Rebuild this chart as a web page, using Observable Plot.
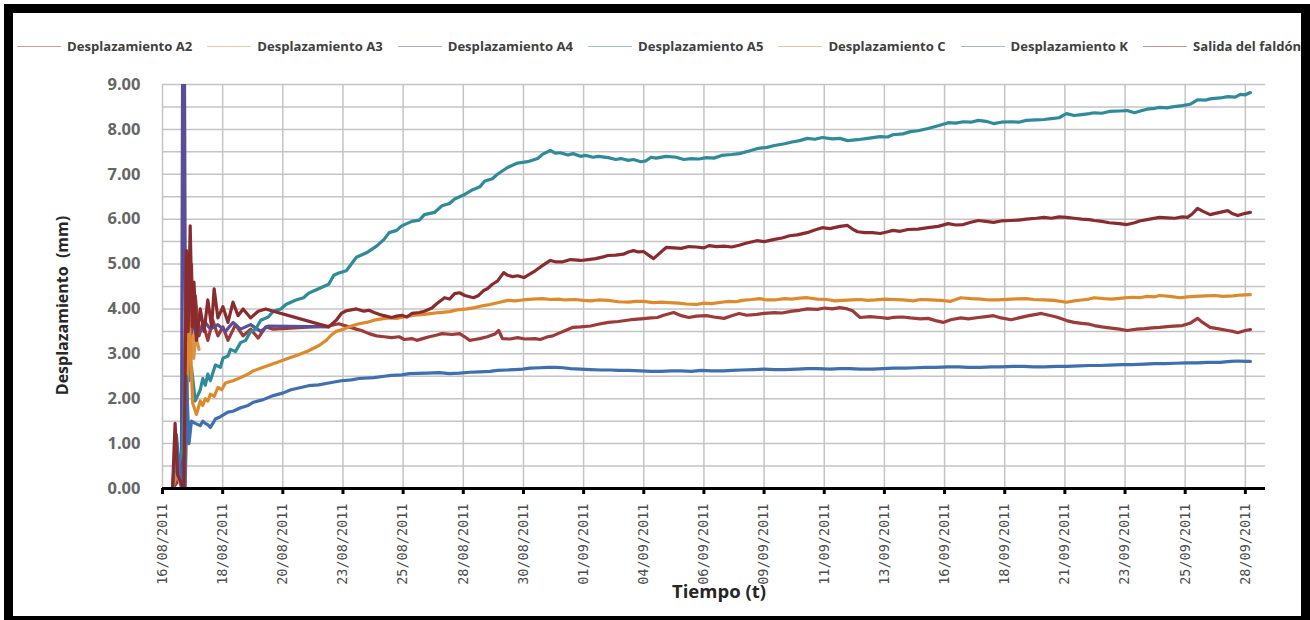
<!DOCTYPE html>
<html><head><meta charset="utf-8">
<script src="https://cdn.jsdelivr.net/npm/d3@7"></script>
<script src="https://cdn.jsdelivr.net/npm/@observablehq/plot@0.6"></script>
<style>
body{margin:0;background:#fff;}
#wrap{position:relative;width:1310px;height:620px;overflow:hidden;font-family:"Open Sans",sans-serif;background:#fff;}
#frame{position:absolute;left:4px;top:4px;width:1306px;height:616px;box-sizing:border-box;border-style:solid;border-color:#000;border-width:9px 9px 4px 9px;pointer-events:none;}
#legend{height:70px;box-sizing:border-box;padding-top:22px;padding-left:17px;display:flex;align-items:center;gap:15px;}
.item{display:flex;align-items:center;font-weight:700;font-size:13.1px;color:#404040;white-space:nowrap;}
.sw{display:inline-block;width:44px;height:0;border-top:1.6px solid;margin-right:6px;opacity:.5;}
#chart svg{display:block;}
</style></head>
<body>
<div id="wrap"><div id="legend"></div><div id="chart"></div><div id="frame"></div></div>
<script>
const seriesNames = ["Desplazamiento A2","Desplazamiento A3","Desplazamiento A4","Desplazamiento A5","Desplazamiento C","Desplazamiento K","Salida del faldón"];
const seriesColors = ["#9c3b39","#d9944a","#5a4e96","#2f8a9b","#de8a2c","#3f6fae","#8a2c2f"];

const tickLabels = ["16/08/2011","18/08/2011","20/08/2011","23/08/2011","25/08/2011","28/08/2011","30/08/2011","01/09/2011","04/09/2011","06/09/2011","09/09/2011","11/09/2011","13/09/2011","16/09/2011","18/09/2011","21/09/2011","23/09/2011","25/09/2011","28/09/2011"];
const yTickValues = [0,1,2,3,4,5,6,7,8,9];
const yGridValues = [0,0.5,1,1.5,2,2.5,3,3.5,4,4.5,5,5.5,6,6.5,7,7.5,8,8.5,9];

// [days since 16/08/2011, displacement mm]
const a2 = [[0.4,0],[0.8,0.3],[0.95,4.9],[1.05,3.2],[1.15,5.0],[1.22,3.3],[1.3,4.3],[1.45,3.4],[1.6,3.7],[1.8,3.3],[2.0,3.75],[2.2,3.4],[2.4,3.6],[2.6,3.3],[2.9,3.65],[3.2,3.4],[3.5,3.55],[3.8,3.35],[4.1,3.6],[4.4,3.55],[6.6,3.62],[7.0,3.67],[7.4,3.6],[7.7,3.55],[7.9,3.52],[8.2,3.45],[8.5,3.4],[8.8,3.38],[9.1,3.36],[9.4,3.38],[9.6,3.32],[9.9,3.34],[10.1,3.3],[10.4,3.35],[10.6,3.38],[10.9,3.42],[11.1,3.45],[11.5,3.43],[11.8,3.45],[12.0,3.38],[12.2,3.3],[12.4,3.32],[12.6,3.34],[12.9,3.38],[13.2,3.44],[13.35,3.52],[13.5,3.34],[13.8,3.33],[14.1,3.36],[14.4,3.33],[14.8,3.34],[15.0,3.32],[15.3,3.38],[15.5,3.4],[15.7,3.45],[16.0,3.52],[16.3,3.59],[16.6,3.6],[17.0,3.62],[17.3,3.66],[17.7,3.7],[18.1,3.72],[18.6,3.76],[19.0,3.78],[19.4,3.8],[19.65,3.81],[19.9,3.86],[20.3,3.92],[20.6,3.85],[20.9,3.81],[21.2,3.84],[21.6,3.85],[21.9,3.82],[22.3,3.79],[22.6,3.85],[22.9,3.9],[23.2,3.86],[23.6,3.88],[23.9,3.9],[24.3,3.92],[24.6,3.91],[25.0,3.95],[25.3,3.97],[25.6,4.0],[26.0,3.99],[26.3,4.02],[26.6,4.0],[26.9,4.03],[27.2,4.0],[27.4,3.96],[27.6,3.86],[27.7,3.81],[28.1,3.83],[28.5,3.81],[28.8,3.79],[29.0,3.81],[29.4,3.82],[29.7,3.8],[30.1,3.78],[30.4,3.79],[30.7,3.74],[31.0,3.7],[31.3,3.76],[31.7,3.8],[32.0,3.78],[32.4,3.81],[32.7,3.83],[33.0,3.85],[33.3,3.8],[33.7,3.76],[34.0,3.8],[34.4,3.85],[34.7,3.88],[34.9,3.9],[35.2,3.86],[35.5,3.82],[35.7,3.78],[35.9,3.74],[36.2,3.7],[36.5,3.68],[36.8,3.66],[37.0,3.63],[37.3,3.6],[37.6,3.58],[38.0,3.55],[38.3,3.52],[38.7,3.55],[39.0,3.56],[39.3,3.58],[39.6,3.59],[40.0,3.61],[40.5,3.63],[40.8,3.68],[41.1,3.79],[41.3,3.7],[41.6,3.59],[41.9,3.56],[42.3,3.52],[42.5,3.5],[42.7,3.47],[43.0,3.52],[43.2,3.54]];
const a3 = [[0.4,0],[0.55,0.5],[0.7,0.1],[0.9,0],[1.0,4.2],[1.08,2.6],[1.16,3.9],[1.24,2.9],[1.32,3.4],[1.45,3.1]];
const a4 = [[0.4,0],[0.65,0.5],[0.75,0],[0.8,9.6],[0.87,9.6],[0.92,2.0],[1.0,3.7],[1.1,3.4],[1.3,3.75],[1.5,3.5],[1.7,3.7],[1.9,3.55],[2.2,3.65],[2.5,3.5],[2.8,3.7],[3.1,3.55],[3.5,3.65],[3.9,3.5],[4.2,3.62],[6.6,3.6]];
const a5 = [[0.4,0],[0.8,0.9],[0.95,4.2],[1.05,2.4],[1.15,2.7],[1.3,1.95],[1.5,2.2],[1.6,2.45],[1.7,2.3],[1.8,2.55],[1.9,2.4],[2.1,2.75],[2.3,2.7],[2.4,2.9],[2.6,2.95],[2.7,3.1],[2.9,3.05],[3.1,3.25],[3.3,3.3],[3.5,3.5],[3.7,3.55],[3.9,3.75],[4.2,3.82],[4.4,3.95],[4.7,4.0],[4.9,4.1],[5.3,4.2],[5.6,4.25],[5.8,4.35],[6.2,4.45],[6.6,4.55],[6.8,4.75],[7.0,4.8],[7.3,4.85],[7.5,5.0],[7.7,5.15],[8.1,5.25],[8.5,5.4],[8.8,5.55],[9.0,5.7],[9.3,5.75],[9.5,5.85],[9.9,5.95],[10.2,5.98],[10.4,6.1],[10.8,6.15],[11.1,6.3],[11.4,6.35],[11.6,6.45],[12.0,6.55],[12.3,6.65],[12.6,6.72],[12.8,6.85],[13.1,6.9],[13.3,7.0],[13.7,7.15],[14.1,7.25],[14.5,7.28],[14.9,7.35],[15.1,7.45],[15.4,7.53],[15.6,7.47],[15.8,7.48],[16.1,7.43],[16.3,7.46],[16.6,7.4],[16.8,7.42],[17.1,7.38],[17.3,7.4],[17.7,7.37],[18.0,7.33],[18.2,7.35],[18.5,7.31],[18.7,7.33],[19.0,7.28],[19.2,7.3],[19.4,7.38],[19.6,7.36],[20.0,7.4],[20.4,7.38],[20.7,7.33],[21.0,7.35],[21.3,7.34],[21.6,7.37],[21.9,7.36],[22.2,7.42],[22.6,7.44],[22.9,7.46],[23.3,7.52],[23.6,7.57],[24.0,7.6],[24.3,7.64],[24.7,7.68],[25.0,7.72],[25.3,7.75],[25.6,7.8],[25.9,7.78],[26.2,7.82],[26.6,7.79],[26.9,7.8],[27.2,7.75],[27.6,7.77],[28.0,7.8],[28.5,7.84],[28.8,7.83],[29.0,7.88],[29.4,7.9],[29.7,7.95],[30.0,7.97],[30.4,8.02],[30.8,8.08],[31.2,8.15],[31.5,8.14],[31.8,8.17],[32.1,8.16],[32.4,8.2],[32.7,8.18],[33.0,8.13],[33.3,8.16],[33.7,8.17],[34.0,8.16],[34.3,8.2],[34.7,8.21],[35.0,8.22],[35.3,8.24],[35.6,8.26],[35.9,8.35],[36.2,8.31],[36.5,8.33],[36.8,8.35],[37.0,8.37],[37.3,8.36],[37.6,8.4],[38.0,8.41],[38.3,8.42],[38.6,8.37],[38.9,8.42],[39.1,8.45],[39.4,8.47],[39.6,8.49],[39.9,8.48],[40.1,8.5],[40.5,8.53],[40.8,8.56],[41.1,8.66],[41.4,8.65],[41.6,8.68],[42.0,8.7],[42.3,8.73],[42.6,8.72],[42.8,8.78],[43.0,8.77],[43.2,8.82]];
const c = [[0.4,0],[0.6,0.4],[0.9,0],[1.05,4.0],[1.2,1.9],[1.35,1.65],[1.5,1.95],[1.6,1.85],[1.7,2.0],[1.8,1.95],[1.9,2.1],[2.05,2.05],[2.2,2.25],[2.35,2.2],[2.5,2.35],[2.8,2.4],[3.1,2.47],[3.4,2.55],[3.6,2.62],[4.0,2.7],[4.4,2.78],[4.7,2.84],[5.0,2.9],[5.4,2.98],[5.8,3.07],[6.2,3.18],[6.5,3.3],[6.7,3.42],[6.9,3.5],[7.2,3.55],[7.4,3.6],[7.8,3.67],[8.1,3.7],[8.4,3.75],[8.7,3.78],[9.0,3.8],[9.3,3.79],[9.6,3.82],[10.0,3.86],[10.4,3.88],[10.7,3.9],[11.0,3.92],[11.4,3.94],[11.7,3.98],[12.1,4.0],[12.4,4.03],[12.7,4.07],[13.0,4.1],[13.4,4.15],[13.7,4.19],[14.0,4.18],[14.3,4.2],[14.7,4.22],[15.1,4.23],[15.4,4.21],[15.7,4.22],[16.0,4.2],[16.4,4.21],[16.7,4.19],[17.0,4.18],[17.3,4.2],[17.7,4.19],[18.1,4.16],[18.5,4.15],[18.8,4.17],[19.1,4.17],[19.5,4.14],[19.8,4.15],[20.1,4.14],[20.5,4.13],[20.8,4.11],[21.2,4.1],[21.5,4.13],[21.8,4.12],[22.2,4.15],[22.5,4.17],[22.8,4.16],[23.0,4.19],[23.4,4.21],[23.7,4.23],[24.0,4.2],[24.3,4.2],[24.7,4.23],[25.0,4.22],[25.3,4.24],[25.6,4.25],[26.0,4.22],[26.4,4.21],[26.7,4.18],[27.0,4.19],[27.4,4.2],[27.7,4.21],[28.0,4.19],[28.3,4.2],[28.7,4.22],[29.0,4.21],[29.4,4.2],[29.8,4.18],[30.1,4.21],[30.5,4.2],[30.9,4.19],[31.3,4.17],[31.7,4.25],[32.1,4.23],[32.5,4.22],[32.8,4.2],[33.2,4.2],[33.7,4.22],[34.3,4.23],[34.6,4.21],[35.0,4.2],[35.4,4.19],[35.9,4.15],[36.2,4.18],[36.5,4.2],[36.8,4.22],[37.0,4.25],[37.4,4.23],[37.7,4.22],[38.1,4.24],[38.5,4.26],[38.8,4.25],[39.1,4.28],[39.4,4.27],[39.6,4.3],[40.0,4.28],[40.4,4.25],[40.7,4.27],[41.0,4.28],[41.4,4.29],[41.8,4.3],[42.1,4.28],[42.5,4.29],[42.8,4.31],[43.2,4.32]];
const k = [[0.4,0],[0.55,1.2],[0.7,0.3],[0.9,0],[0.95,2.5],[1.05,1.0],[1.15,1.5],[1.3,1.45],[1.5,1.4],[1.6,1.5],[1.7,1.45],[1.8,1.42],[1.9,1.36],[2.0,1.45],[2.1,1.55],[2.3,1.6],[2.6,1.7],[2.8,1.72],[3.1,1.8],[3.4,1.85],[3.6,1.92],[4.0,1.98],[4.4,2.07],[4.8,2.13],[5.1,2.2],[5.5,2.25],[5.8,2.29],[6.2,2.31],[6.6,2.35],[7.1,2.4],[7.5,2.42],[7.8,2.45],[8.4,2.47],[8.8,2.5],[9.1,2.52],[9.5,2.53],[9.8,2.56],[10.5,2.57],[11.0,2.58],[11.4,2.56],[11.8,2.57],[12.2,2.59],[12.6,2.6],[13.0,2.61],[13.3,2.63],[13.7,2.64],[14.0,2.65],[14.3,2.66],[14.6,2.68],[15.0,2.69],[15.3,2.7],[15.6,2.7],[15.9,2.69],[16.2,2.67],[16.6,2.66],[17.0,2.65],[17.4,2.64],[17.8,2.64],[18.1,2.63],[18.5,2.63],[19.0,2.62],[19.4,2.61],[19.8,2.61],[20.2,2.62],[20.6,2.62],[21.0,2.61],[21.4,2.63],[21.8,2.62],[22.3,2.62],[22.6,2.63],[23.0,2.64],[23.5,2.65],[23.9,2.66],[24.3,2.65],[24.7,2.65],[25.2,2.66],[25.6,2.67],[26.0,2.67],[26.5,2.66],[26.9,2.67],[27.3,2.67],[27.7,2.66],[28.2,2.66],[28.6,2.67],[29.0,2.68],[29.5,2.68],[29.9,2.69],[30.3,2.7],[30.7,2.7],[31.2,2.71],[31.6,2.71],[32.0,2.7],[32.5,2.7],[32.9,2.71],[33.3,2.71],[33.8,2.72],[34.2,2.72],[34.6,2.71],[35.0,2.71],[35.5,2.72],[35.9,2.72],[36.4,2.73],[36.8,2.74],[37.2,2.74],[37.6,2.75],[38.1,2.76],[38.5,2.76],[39.0,2.77],[39.4,2.78],[39.8,2.78],[40.2,2.79],[40.7,2.8],[41.1,2.8],[41.5,2.81],[42.0,2.81],[42.4,2.83],[42.7,2.84],[43.0,2.83],[43.2,2.83]];
const salida = [[0.4,0],[0.5,1.45],[0.6,0.3],[0.85,0],[0.95,5.3],[1.02,3.5],[1.1,5.85],[1.18,3.6],[1.25,4.6],[1.35,3.3],[1.5,4.0],[1.65,3.5],[1.8,4.2],[1.95,3.6],[2.05,4.45],[2.2,3.8],[2.4,4.05],[2.6,3.7],[2.8,4.15],[3.0,3.85],[3.2,4.0],[3.5,3.8],[3.8,3.95],[4.1,4.0],[4.4,3.95],[6.6,3.6],[6.9,3.75],[7.1,3.9],[7.3,3.96],[7.5,3.98],[7.7,4.0],[8.0,3.95],[8.2,3.97],[8.4,3.92],[8.6,3.88],[8.8,3.85],[9.1,3.81],[9.3,3.84],[9.5,3.86],[9.7,3.82],[9.9,3.9],[10.2,3.92],[10.4,3.95],[10.7,4.02],[10.9,4.12],[11.2,4.25],[11.4,4.22],[11.6,4.34],[11.8,4.36],[12.0,4.3],[12.35,4.25],[12.55,4.3],[12.75,4.41],[12.9,4.45],[13.1,4.55],[13.3,4.62],[13.55,4.81],[13.7,4.75],[13.9,4.72],[14.1,4.74],[14.35,4.7],[14.6,4.78],[14.8,4.85],[15.1,4.97],[15.4,5.08],[15.6,5.05],[15.9,5.05],[16.2,5.1],[16.6,5.08],[16.9,5.1],[17.2,5.12],[17.5,5.16],[17.7,5.19],[18.0,5.2],[18.3,5.22],[18.5,5.27],[18.7,5.3],[18.9,5.27],[19.1,5.28],[19.3,5.2],[19.5,5.12],[19.7,5.22],[20.0,5.37],[20.3,5.36],[20.6,5.35],[20.9,5.39],[21.2,5.38],[21.5,5.36],[21.7,5.41],[22.0,5.39],[22.3,5.4],[22.6,5.38],[22.9,5.42],[23.2,5.47],[23.6,5.52],[23.9,5.5],[24.3,5.55],[24.6,5.58],[24.9,5.63],[25.2,5.65],[25.6,5.7],[25.9,5.76],[26.2,5.81],[26.5,5.79],[26.9,5.84],[27.2,5.86],[27.4,5.78],[27.6,5.72],[27.9,5.7],[28.2,5.7],[28.5,5.68],[28.8,5.72],[29.0,5.75],[29.3,5.73],[29.6,5.77],[30.0,5.78],[30.4,5.81],[30.8,5.84],[31.2,5.9],[31.5,5.87],[31.8,5.88],[32.1,5.93],[32.4,5.97],[32.7,5.95],[33.0,5.93],[33.3,5.96],[33.7,5.97],[34.0,5.98],[34.3,6.0],[34.7,6.02],[35.0,6.04],[35.3,6.02],[35.6,6.05],[35.9,6.04],[36.2,6.02],[36.5,6.0],[36.8,5.99],[37.0,5.97],[37.3,5.95],[37.6,5.92],[38.0,5.9],[38.3,5.88],[38.6,5.92],[38.8,5.96],[39.2,6.0],[39.6,6.04],[39.9,6.03],[40.2,6.02],[40.5,6.05],[40.7,6.04],[40.9,6.12],[41.1,6.24],[41.3,6.18],[41.6,6.1],[41.9,6.14],[42.3,6.19],[42.5,6.12],[42.7,6.08],[43.0,6.13],[43.2,6.15]];

const seriesData = [a2, a3, a4, a5, c, k, salida];
const rows = seriesData.flatMap((arr, i) => arr.map(([t, v]) => ({serie: seriesNames[i], t, v})));

// x tick positions: category labels evenly spaced over the date span
const parse = d3.timeParse("%d/%m/%Y");
const span = (parse(tickLabels[tickLabels.length - 1]) - parse(tickLabels[0])) / 864e5;
const step = span / (tickLabels.length - 1);
const tickPos = tickLabels.map((_, i) => i * step);
const labelAt = d => tickLabels[Math.round(d / step)];

// legend
const legend = document.getElementById("legend");
seriesNames.forEach((n, i) => {
  const it = document.createElement("div"); it.className = "item";
  const sw = document.createElement("span"); sw.className = "sw"; sw.style.borderTopColor = seriesColors[i];
  it.appendChild(sw); it.appendChild(document.createTextNode(n));
  legend.appendChild(it);
});

const chart = Plot.plot({
  width: 1310, height: 550,
  marginTop: 14, marginBottom: 132, marginLeft: 162, marginRight: 45,
  style: {fontFamily: "Open Sans, sans-serif", background: "transparent", overflow: "visible"},
  x: {domain: [0, 43.8]},
  y: {domain: [0, 9]},
  color: {domain: seriesNames, range: seriesColors},
  marks: [
    Plot.gridY(yGridValues, {stroke: "#c4c4c4", strokeOpacity: 1, strokeWidth: 1.5}),
    Plot.gridX(tickPos, {stroke: "#c4c4c4", strokeOpacity: 1, strokeWidth: 1.5}),
    Plot.line(rows, {x: "t", y: "v", z: "serie", stroke: "serie", strokeWidth: 3.2, strokeLinejoin: "round", clip: true}),
    Plot.ruleY([0], {stroke: "#000", strokeWidth: 3}),
    Plot.axisX(tickPos, {tickFormat: labelAt, tickRotate: -90, tickSize: 6, tickPadding: 9, stroke: "#000", strokeWidth: 3, fill: "#4d4d4d", fontSize: 13.5, fontFamily: "DejaVu Sans Mono", label: null}),
    Plot.axisY(yTickValues, {tickFormat: d => d.toFixed(2), tickSize: 0, tickPadding: 22, fill: "#666", fontSize: 16.5, fontWeight: "bold", label: null}),
    Plot.text(["Desplazamiento  (mm)"], {text: d => d, frameAnchor: "left", textAnchor: "middle", dx: -100, dy: 19, rotate: -90, fontSize: 16, fontWeight: "bold", fill: "#262626"}),
    Plot.text(["Tiempo (t)"], {text: d => d, frameAnchor: "bottom", dx: 5, dy: 109, fontSize: 18.5, fontWeight: "bold", fill: "#262626"})
  ]
});
document.getElementById("chart").appendChild(chart);
</script>
</body></html>
